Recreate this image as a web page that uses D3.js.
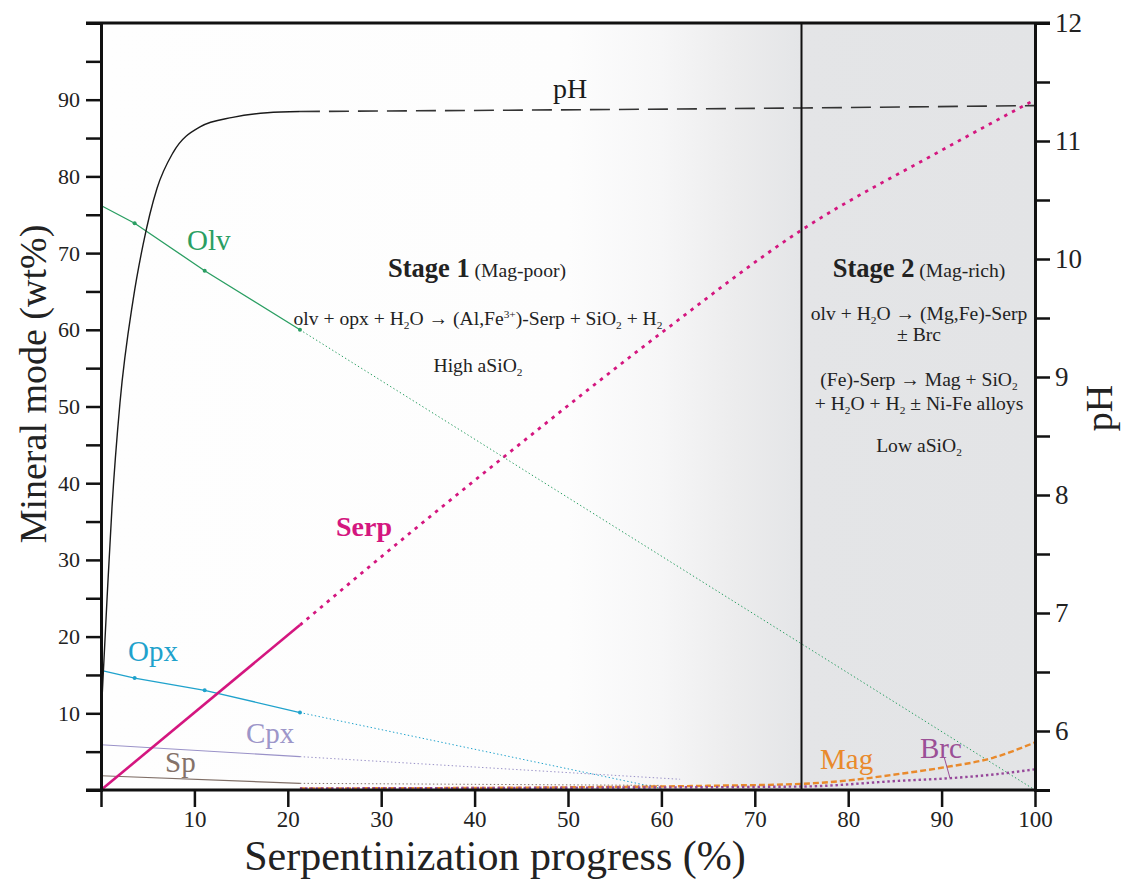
<!DOCTYPE html>
<html>
<head>
<meta charset="utf-8">
<script src="https://cdn.jsdelivr.net/npm/d3@7"></script>
<style>
  html, body { margin: 0; padding: 0; background: #ffffff; }
  svg { display: block; font-family: "Liberation Serif", "Times New Roman", serif; }
</style>
</head>
<body>
<svg id="chart" width="1124" height="879"></svg>
<script>
// ---- data (progress %, mineral wt% / pH) ----
const xTickValues = [0, 10, 20, 30, 40, 50, 60, 70, 80, 90, 100];
const xTickLabels = ["", "10", "20", "30", "40", "50", "60", "70", "80", "90", "100"];
const yTickValues = [0, 5, 10, 15, 20, 25, 30, 35, 40, 45, 50, 55, 60, 65, 70, 75, 80, 85, 90, 95, 100];
const yTickLabels = ["10", "20", "30", "40", "50", "60", "70", "80", "90"];
const phTickValues = [5.5, 6, 6.5, 7, 7.5, 8, 8.5, 9, 9.5, 10, 10.5, 11, 11.5, 12];
const phTickLabels = ["6", "7", "8", "9", "10", "11", "12"];

const olvMeasured = [[0, 76.2], [3.6, 73.9], [11.1, 67.7], [21.3, 60.0]];
const olvTrend    = [[21.3, 60.0], [100, 0]];
const opxMeasured = [[0, 15.6], [3.6, 14.6], [11.1, 13.0], [21.3, 10.1]];
const opxTrend    = [[21.3, 10.1], [60, 0.2]];
const cpxMeasured = [[0, 5.9], [21.3, 4.35]];
const cpxTrend    = [[21.3, 4.35], [62, 1.4]];
const spMeasured  = [[0, 1.85], [21.3, 0.87]];
const spTrend     = [[21.3, 0.87], [60, 0.6]];
const serpMeasured = [[0, 0], [21.3, 21.5]];
const serpTrend   = [[21.3, 21.5], [30, 30.4], [43, 43.3], [60, 59.6], [75, 73.0], [90, 83.4], [100, 90.0]];
const magTrend    = [[21.3, 0.2], [50, 0.35], [65, 0.55], [75, 0.8], [80, 1.25], [85.5, 2.1], [90, 2.9], [95.5, 4.2], [100, 6.2]];
const brcTrend    = [[21.3, 0.2], [50, 0.3], [75, 0.45], [85.5, 1.2], [91, 1.55], [95, 1.95], [100, 2.7]];
const phMeasured  = [[0, 6.1], [0.2, 6.42], [0.64, 7.11], [1.18, 7.9], [2.03, 8.78], [3.43, 9.65], [4.5, 10.12],
                     [6.0, 10.6], [7.7, 10.9], [10.6, 11.12], [14.1, 11.2], [17.8, 11.24], [21.3, 11.25]];
const phTrend     = [[21.3, 11.25], [75, 11.28], [100, 11.3]];
const stageBoundary = 75;

// ---- layout ----
const svg = d3.select("#chart");
const plotL = 101, plotR = 1035, plotT = 23, plotB = 790;

const x = d3.scaleLinear().domain([0, 100]).range([plotL, plotR]);
const y = d3.scaleLinear().domain([0, 100]).range([plotB, plotT]);
const yPh = d3.scaleLinear().domain([5.5, 12]).range([plotB, plotT]);

// ---- background: white stage 1 fading into grey stage 2 ----
const defs = svg.append("defs");
const grad = defs.append("linearGradient").attr("id", "stageFade")
  .attr("gradientUnits", "userSpaceOnUse")
  .attr("x1", x(0)).attr("x2", x(100)).attr("y1", 0).attr("y2", 0);
[[0, "#fefefe"], [0.5, "#fdfdfd"], [0.6, "#f6f6f7"], [0.68, "#ececed"], [0.74, "#e5e6e8"], [0.75, "#e4e5e7"], [1, "#e3e4e6"]]
  .forEach(([o, c]) => grad.append("stop").attr("offset", o).attr("stop-color", c));
svg.append("rect").attr("x", x(0)).attr("y", y(100))
  .attr("width", x(100) - x(0)).attr("height", y(0) - y(100))
  .attr("fill", "url(#stageFade)");

// ---- line helpers ----
const line = d3.line().x(d => x(d[0])).y(d => y(d[1]));
const smooth = d3.line().x(d => x(d[0])).y(d => y(d[1])).curve(d3.curveMonotoneX);
const phLine = d3.line().x(d => x(d[0])).y(d => yPh(d[1])).curve(d3.curveMonotoneX);

function path(data, gen, color, width, dash) {
  const p = svg.append("path").datum(data).attr("d", gen)
    .attr("fill", "none").attr("stroke", color).attr("stroke-width", width);
  if (dash) p.attr("stroke-dasharray", dash);
  return p;
}

const C = {
  olv: "#2a9e62", opx: "#1fa2cc", cpx: "#9a92c8", sp: "#7f6e66",
  serp: "#d4167f", mag: "#e98a2c", brc: "#96479a", ph: "#1a1a1a"
};

// extrapolated trends (fine dotted)
path(olvTrend, line, C.olv, 1, "1.4,2.4");
path(opxTrend, line, C.opx, 1, "1.4,2.4");
path(cpxTrend, line, C.cpx, 1, "1.4,2.4");
path(spTrend, line, C.sp, 1, "1.4,2.4");

// magnetite and brucite
path(magTrend, smooth, C.mag, 2.4, "6,3");
path(brcTrend, smooth, C.brc, 2.4, "2.4,2.8");

// measured primary minerals
path(olvMeasured, line, C.olv, 1.3);
path(opxMeasured, line, C.opx, 1.3);
path(cpxMeasured, line, C.cpx, 1.1);
path(spMeasured, line, C.sp, 1.1);

[[olvMeasured, C.olv], [opxMeasured, C.opx]].forEach(([data, color]) => {
  svg.append("g").selectAll("circle").data(data.slice(1)).join("circle")
    .attr("cx", d => x(d[0])).attr("cy", d => y(d[1])).attr("r", 2)
    .attr("fill", color);
});

// serpentine
path(serpMeasured, line, C.serp, 2.6);
path(serpTrend, smooth, C.serp, 2.8, "3.4,5.4");

// pH
path(phMeasured, phLine, C.ph, 1.4);
path(phTrend, phLine, "#333333", 1.6, "20,9");

// stage boundary
svg.append("line").attr("x1", x(stageBoundary)).attr("x2", x(stageBoundary))
  .attr("y1", y(100)).attr("y2", y(0)).attr("stroke", "#111").attr("stroke-width", 2);

// ---- axes ----
const axisColor = "#111";
const xAxis = svg.append("g").attr("transform", `translate(0,${plotB})`)
  .call(d3.axisBottom(x).tickValues(xTickValues).tickSize(17).tickPadding(4)
    .tickFormat((d, i) => xTickLabels[i]));
const yAxis = svg.append("g").attr("transform", `translate(${plotL},0)`)
  .call(d3.axisLeft(y).tickValues(yTickValues).tickSize(15).tickPadding(6)
    .tickFormat(d => yTickLabels.includes(String(d)) ? String(d) : ""));
const phAxis = svg.append("g").attr("transform", `translate(${plotR},0)`)
  .call(d3.axisRight(yPh).tickValues(phTickValues).tickSize(15).tickPadding(5)
    .tickFormat(d => phTickLabels.includes(String(d)) ? String(d) : ""));
const topAxis = svg.append("g").attr("transform", `translate(0,${plotT})`)
  .call(d3.axisTop(x).tickValues([]).tickSizeOuter(0));

[xAxis, yAxis, phAxis, topAxis].forEach(g => {
  g.select(".domain").attr("stroke", axisColor).attr("stroke-width", 3);
  g.selectAll(".tick line").attr("stroke", axisColor).attr("stroke-width", 2.5);
  g.selectAll(".tick text").attr("fill", "#222").attr("font-family", "Liberation Serif, serif");
});
xAxis.selectAll(".tick text").attr("font-size", 23);
yAxis.selectAll(".tick text").attr("font-size", 22);
phAxis.selectAll(".tick text").attr("font-size", 27);
xAxis.select(".domain").attr("d", `M${x(0) - 15},0H${x(100)}`);
topAxis.select(".domain").attr("d", `M${x(0) - 15},0H${x(100) + 15}`);

// ---- axis titles ----
svg.append("text").attr("x", 495).attr("y", 870).attr("text-anchor", "middle")
  .attr("font-size", 42).attr("fill", "#222").text("Serpentinization progress (%)");
svg.append("text").attr("transform", "translate(46,384) rotate(-90)").attr("text-anchor", "middle")
  .attr("font-size", 38).attr("fill", "#222").text("Mineral mode (wt%)");
svg.append("text").attr("transform", "translate(1112,408) rotate(-90)").attr("text-anchor", "middle")
  .attr("font-size", 38).attr("fill", "#222").text("pH");

// ---- series labels ----
function label(txt, px, py, color, size, weight) {
  svg.append("text").attr("x", px).attr("y", py).attr("fill", color)
    .attr("font-size", size).attr("font-weight", weight || "normal").text(txt);
}
label("Olv", 187, 250, C.olv, 29);
label("Opx", 128, 661, C.opx, 29);
label("Cpx", 246, 743, "#9d96c9", 29);
label("Sp", 165, 772, "#847269", 29);
label("Serp", 336, 536, C.serp, 28, "bold");
label("Mag", 820, 769, C.mag, 29);
label("Brc", 920, 758, "#9b4f96", 29);
label("pH", 553, 98, "#1a1a1a", 28);

// Brc leader
svg.append("line").attr("x1", x(90.3)).attr("y1", 758).attr("x2", x(90.9)).attr("y2", y(1.55))
  .attr("stroke", "#9b4f96").attr("stroke-width", 1);

// ---- stage annotations with sub/superscripts ----
function rich(px, py, parts, size, color) {
  const t = svg.append("text").attr("x", px).attr("y", py).attr("text-anchor", "middle")
    .attr("font-size", size).attr("fill", color || "#222");
  let shift = 0;
  parts.forEach(p => {
    const [txt, mode] = Array.isArray(p) ? p : [p, ""];
    const s = t.append("tspan").text(txt);
    let target = 0;
    if (mode === "sub") { target = size * 0.22; s.attr("font-size", size * 0.58); }
    else if (mode === "sup") { target = -size * 0.38; s.attr("font-size", size * 0.58); }
    else if (mode === "b") { s.attr("font-weight", "bold").attr("font-size", 26.5); }
    if (target !== shift) { s.attr("dy", target - shift); shift = target; }
  });
  return t;
}

const fs = 19.6;
rich(477, 277, [["Stage 1", "b"], " (Mag-poor)"], fs);
rich(478, 325, ["olv + opx + H", ["2", "sub"], "O \u2192 (Al,Fe", ["3+", "sup"], ")-Serp + SiO", ["2", "sub"], " + H", ["2", "sub"]], fs);
rich(478, 372, ["High aSiO", ["2", "sub"]], fs);

rich(919, 277, [["Stage 2", "b"], " (Mag-rich)"], fs);
rich(919, 320, ["olv + H", ["2", "sub"], "O \u2192 (Mg,Fe)-Serp"], fs);
rich(919, 341, ["\u00b1 Brc"], fs);
rich(919, 386, ["(Fe)-Serp \u2192 Mag + SiO", ["2", "sub"]], fs);
rich(919, 410, ["+ H", ["2", "sub"], "O + H", ["2", "sub"], " \u00b1 Ni-Fe alloys"], fs);
rich(919, 452, ["Low aSiO", ["2", "sub"]], fs);
</script>
</body>
</html>
